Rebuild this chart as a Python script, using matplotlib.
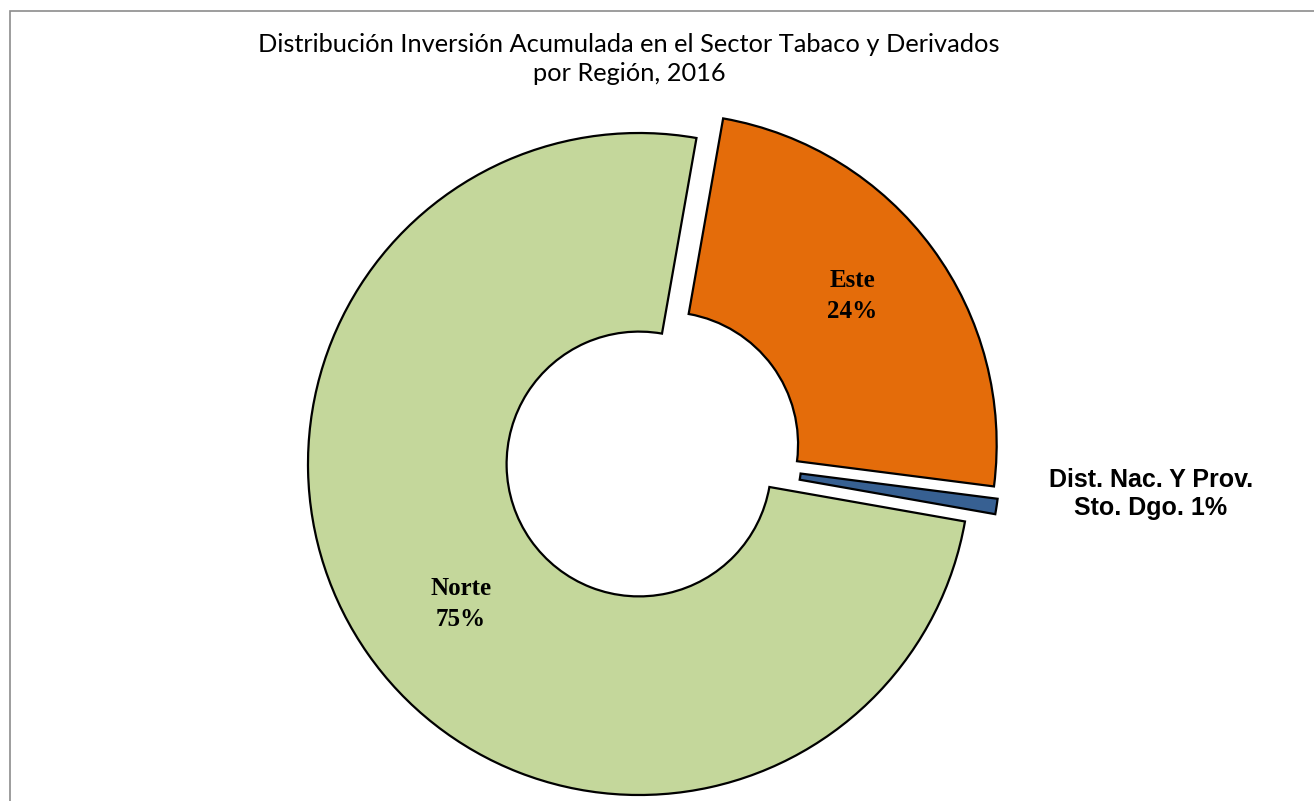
import numpy as np
import matplotlib as mplt
mplt.use("Agg")
import matplotlib.pyplot as plt
from matplotlib.patches import Rectangle

# data (shares; labels are the rounded values)
regions = ["Este", "Dist. Nac. Y Prov.\nSto. Dgo.", "Norte"]
shares = [24.25, 0.75, 75.0]
colors = ["#E46C0A", "#376092", "#C4D79B"]
explode = [0.1, 0.0, 0.0]
blue_shift = (0.0915, 0.022)  # Excel pushed the small slice a bit upward

W, H = 1314, 801
cx, cy, R = 639, 464, 331  # pie centre / radius in pixels

fig = plt.figure(figsize=(W / 100, H / 100), dpi=100)
ax = fig.add_axes([0, 0, 1, 1])
ax.axis("off")

wedges, _ = ax.pie(
    shares,
    colors=colors,
    explode=explode,
    startangle=80,
    counterclock=False,
    radius=1,
    wedgeprops=dict(width=0.6, edgecolor="black", linewidth=1.6),
)
wedges[1].set_center(blue_shift)

ax.set_aspect("auto")
ax.set_xlim(-cx / R, (W - cx) / R)
ax.set_ylim(-(H - cy) / R, cy / R)

# frame
fig.patches.append(Rectangle((10 / W, -0.1), 1.2, (H - 11) / H + 0.1,
                             transform=fig.transFigure, fill=False,
                             edgecolor="#8c8c8c", linewidth=1.2))

# labels
serif = dict(family="Liberation Serif", weight="bold", fontsize=18,
             ha="center", va="center", linespacing=1.4)
fig.text(852 / W, 1 - 296 / H, f"Este\n{round(shares[0])}%", **serif)
fig.text(461 / W, 1 - 604 / H, f"Norte\n{round(shares[2])}%", **serif)
fig.text(1151 / W, 1 - 494 / H, f"{regions[1]} {round(shares[1])}%",
         family="Liberation Sans", weight="bold", fontsize=18,
         ha="center", va="center", linespacing=1.25)

fig.text(629 / W, 1 - 59 / H,
         "Distribución Inversión Acumulada en el Sector Tabaco y Derivados\npor Región, 2016",
         family="Lato", fontsize=18.3, ha="center", va="center", linespacing=1.3)

fig.savefig("out.png", dpi=100)
